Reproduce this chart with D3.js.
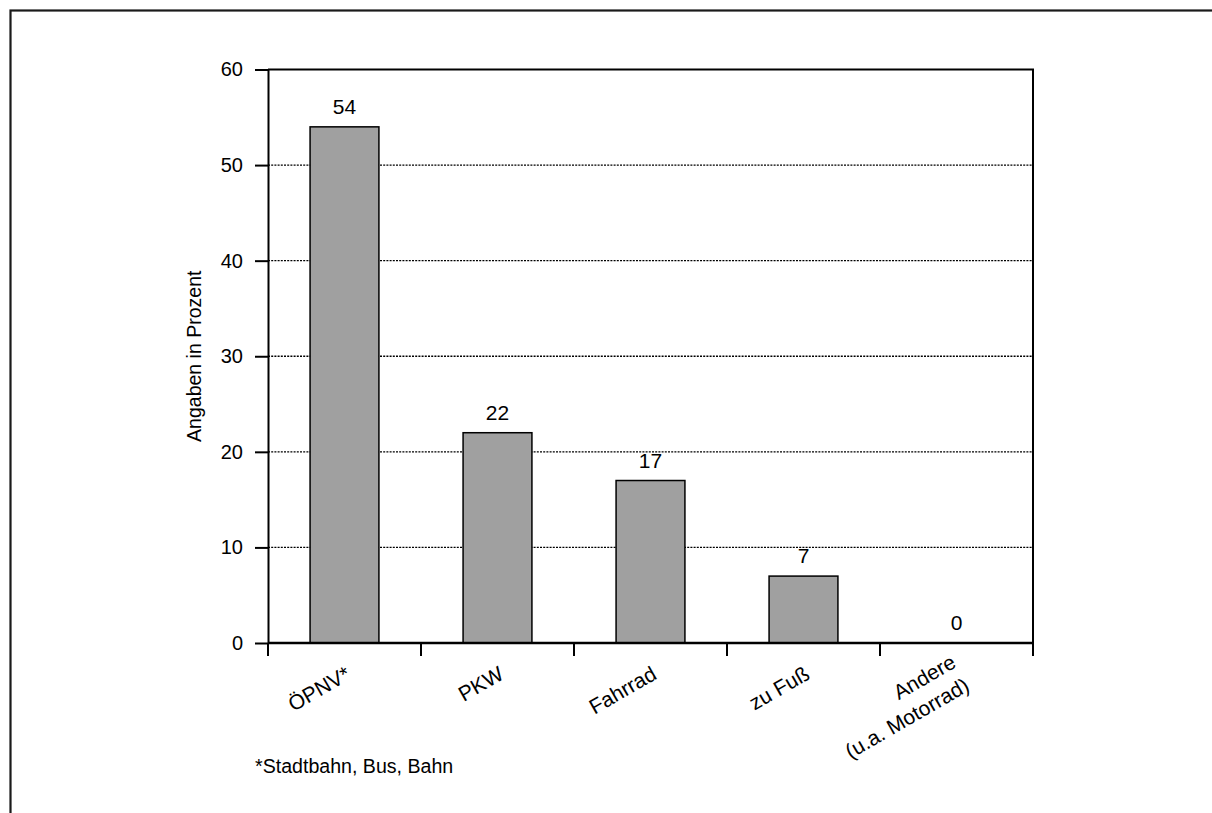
<!DOCTYPE html>
<html>
<head>
<meta charset="utf-8">
<script src="https://cdn.jsdelivr.net/npm/d3@7"></script>
<style>
  html, body { margin: 0; padding: 0; background: #fff; overflow: hidden; }
  text { font-family: "Liberation Sans", Arial, sans-serif; fill: #000; }
</style>
</head>
<body>
<svg id="chart" width="1212" height="813"></svg>
<script>
const categories = [["ÖPNV*"], ["PKW"], ["Fahrrad"], ["zu Fuß"], ["Andere", "(u.a. Motorrad)"]];
const values = [54, 22, 17, 7, 0];
const yTicks = [0, 10, 20, 30, 40, 50, 60];
const yTitle = "Angaben in Prozent";
const footnote = "*Stadtbahn, Bus, Bahn";

(function () {
const svg = d3.select("#chart");
const tickFont = 20, valueFont = 21, catFont = 21, titleFont = 19.5, noteFont = 19.6;

// outer frame
svg.append("rect")
  .attr("x", 10.5).attr("y", 10.5)
  .attr("width", 1230).attr("height", 830)
  .attr("fill", "none").attr("stroke", "#1a1a1a").attr("stroke-width", 2.2);

const pL = 268, pR = 1033, pT = 69.5, pB = 643;
const keys = categories.map(c => c.join(" "));
const x = d3.scaleBand().domain(keys).range([pL, pR]).paddingInner(0).paddingOuter(0);
const y = d3.scaleLinear().domain([0, 60]).range([pB, pT]);

// gridlines
svg.append("g").selectAll("line")
  .data(yTicks.filter(t => t > 0 && t < 60))
  .join("line")
  .attr("x1", pL).attr("x2", pR)
  .attr("y1", d => y(d)).attr("y2", d => y(d))
  .attr("stroke", "#000").attr("stroke-width", 1.3)
  .attr("stroke-dasharray", "2,1.2");

// plot box top and right
svg.append("path")
  .attr("d", `M${pL},${y(60)}H${pR}V${pB}`)
  .attr("fill", "none").attr("stroke", "#000").attr("stroke-width", 2);

// bars
const barW = x.bandwidth() * 0.45;
svg.append("g").selectAll("rect")
  .data(values.map((v, i) => ({ k: keys[i], v })).filter(d => d.v > 0))
  .join("rect")
  .attr("x", d => x(d.k) + (x.bandwidth() - barW) / 2)
  .attr("width", barW)
  .attr("y", d => y(d.v))
  .attr("height", d => y(0) - y(d.v))
  .attr("fill", "#a0a0a0").attr("stroke", "#000").attr("stroke-width", 1.5);

// value labels
svg.append("g").selectAll("text")
  .data(values.map((v, i) => ({ k: keys[i], v })))
  .join("text")
  .attr("x", d => x(d.k) + x.bandwidth() / 2)
  .attr("y", d => y(d.v) - 13)
  .attr("text-anchor", "middle")
  .attr("font-size", valueFont)
  .text(d => d.v);

// y axis
const yAxis = svg.append("g")
  .attr("transform", `translate(${pL},0)`)
  .call(d3.axisLeft(y).tickValues(yTicks).tickSize(13).tickSizeOuter(0).tickPadding(12));
yAxis.select(".domain").attr("stroke", "#000").attr("stroke-width", 2);
yAxis.selectAll(".tick line").attr("stroke", "#000").attr("stroke-width", 2);
yAxis.selectAll(".tick text").attr("font-size", tickFont).attr("font-family", "Liberation Sans, Arial, sans-serif").attr("fill", "#000");

// x axis baseline
svg.append("line")
  .attr("x1", pL).attr("x2", pR)
  .attr("y1", y(0)).attr("y2", y(0))
  .attr("stroke", "#000").attr("stroke-width", 2.5);

// x ticks at category boundaries
const bounds = keys.map(k => x(k)).concat([pR]);
svg.append("g").selectAll("line")
  .data(bounds)
  .join("line")
  .attr("x1", d => d).attr("x2", d => d)
  .attr("y1", y(0)).attr("y2", y(0) + 13)
  .attr("stroke", "#000").attr("stroke-width", 2);

// x labels (rotated)
const lineGap = 27;
const xl = svg.append("g").selectAll("g")
  .data(categories.map((c, i) => ({ lines: c, k: keys[i] })))
  .join("g")
  .attr("transform", d => `translate(${x(d.k) + x.bandwidth() / 2},${y(0) + 22}) rotate(-30)`);
xl.each(function (d) {
  const n = d.lines.length;
  d3.select(this).selectAll("text")
    .data(d.lines)
    .join("text")
    .attr("text-anchor", "end")
    .attr("x", 0)
    .attr("y", (l, i) => (i - (n - 1) / 2) * lineGap + 0.72 * catFont)
    .attr("font-size", catFont)
    .text(l => l);
});

// y title
svg.append("text")
  .attr("transform", `translate(201,${(pT + pB) / 2}) rotate(-90)`)
  .attr("text-anchor", "middle")
  .attr("font-size", titleFont)
  .text(yTitle);

// footnote
svg.append("text")
  .attr("x", 255).attr("y", 773)
  .attr("font-size", noteFont)
  .text(footnote);
})();
</script>
</body>
</html>
